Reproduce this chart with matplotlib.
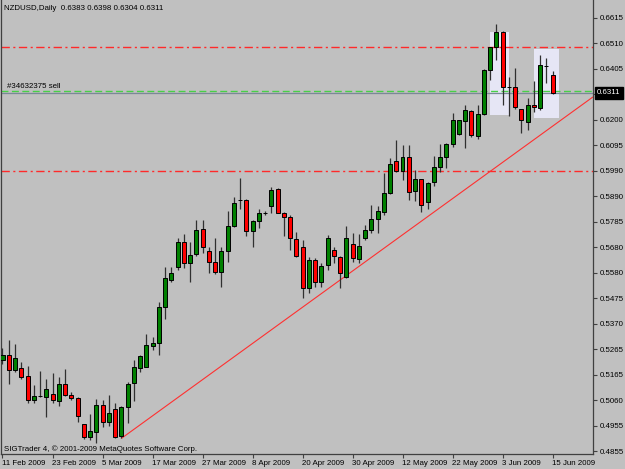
import matplotlib
matplotlib.use("Agg")
import matplotlib.pyplot as plt
import matplotlib.transforms as mtransforms
from matplotlib.patches import Rectangle
import numpy as np
import pandas as pd

# NZDUSD daily candles, 11 Feb 2009 .. 15 Jun 2009
opens = [0.5225, 0.5245, 0.5184, 0.5192, 0.5160, 0.5062, 0.5078, 0.5074, 0.5087, 0.5059,
         0.5127, 0.5082, 0.5072, 0.4963, 0.4913, 0.4934, 0.5042, 0.4974, 0.5026, 0.4915,
         0.5032, 0.5130, 0.5193, 0.5198, 0.5282, 0.5293, 0.5441, 0.5550, 0.5604, 0.5703,
         0.5618, 0.5654, 0.5756, 0.5668, 0.5623, 0.5584, 0.5668, 0.5769, 0.5875, 0.5875,
         0.5750, 0.5791, 0.5822, 0.5851, 0.5920, 0.5824, 0.5805, 0.5718, 0.5683, 0.5516,
         0.5631, 0.5543, 0.5611, 0.5672, 0.5645, 0.5563, 0.5695, 0.5634, 0.5722, 0.5753,
         0.5797, 0.5828, 0.5902, 0.6035, 0.5994, 0.6051, 0.5912, 0.5959, 0.5867, 0.5947,
         0.6008, 0.6050, 0.6101, 0.6145, 0.6198, 0.6237, 0.6135, 0.6224, 0.6404, 0.6496,
         0.6559, 0.6336, 0.6336, 0.6244, 0.6193, 0.6261, 0.6250, 0.6421, 0.6383]
highs = [0.5274, 0.5306, 0.5290, 0.5217, 0.5200, 0.5123, 0.5180, 0.5148, 0.5173, 0.5157,
         0.5188, 0.5096, 0.5075, 0.4966, 0.5005, 0.5066, 0.5062, 0.5082, 0.5051, 0.5038,
         0.5134, 0.5225, 0.5244, 0.5330, 0.5319, 0.5462, 0.5604, 0.5604, 0.5719, 0.5737,
         0.5706, 0.5794, 0.5794, 0.5683, 0.5722, 0.5685, 0.5830, 0.5889, 0.5963, 0.5878,
         0.5794, 0.5837, 0.5830, 0.5927, 0.5922, 0.5826, 0.5814, 0.5746, 0.5713, 0.5645,
         0.5638, 0.5618, 0.5733, 0.5685, 0.5648, 0.5769, 0.5740, 0.5736, 0.5774, 0.5855,
         0.5851, 0.5984, 0.6045, 0.6119, 0.6099, 0.6099, 0.5997, 0.5961, 0.5950, 0.6054,
         0.6101, 0.6106, 0.6230, 0.6202, 0.6261, 0.6243, 0.6261, 0.6406, 0.6498, 0.6591,
         0.6562, 0.6376, 0.6411, 0.6246, 0.6289, 0.6359, 0.6465, 0.6454, 0.6398]
lows = [0.5209, 0.5127, 0.5176, 0.5148, 0.5050, 0.5051, 0.5075, 0.4994, 0.5051, 0.5038,
        0.5079, 0.5062, 0.4974, 0.4902, 0.4900, 0.4887, 0.4954, 0.4956, 0.4906, 0.4906,
        0.4967, 0.5059, 0.5175, 0.5196, 0.5265, 0.5245, 0.5390, 0.5543, 0.5591, 0.5598,
        0.5543, 0.5648, 0.5661, 0.5577, 0.5574, 0.5520, 0.5624, 0.5764, 0.5837, 0.5729,
        0.5683, 0.5760, 0.5815, 0.5821, 0.5822, 0.5729, 0.5672, 0.5642, 0.5476, 0.5498,
        0.5523, 0.5520, 0.5591, 0.5618, 0.5516, 0.5560, 0.5624, 0.5618, 0.5713, 0.5740,
        0.5742, 0.5814, 0.5900, 0.5990, 0.5956, 0.5875, 0.5872, 0.5828, 0.5839, 0.5934,
        0.5987, 0.6006, 0.6092, 0.6139, 0.6085, 0.6132, 0.6123, 0.6222, 0.6363, 0.6444,
        0.6261, 0.6217, 0.6244, 0.6149, 0.6160, 0.6234, 0.6241, 0.6350, 0.6304]
closes = [0.5245, 0.5184, 0.5233, 0.5156, 0.5062, 0.5080, 0.5079, 0.5107, 0.5062, 0.5127,
          0.5082, 0.5072, 0.4997, 0.4914, 0.4935, 0.5042, 0.4973, 0.5008, 0.4913, 0.5032,
          0.5127, 0.5198, 0.5241, 0.5286, 0.5293, 0.5441, 0.5557, 0.5580, 0.5703, 0.5618,
          0.5652, 0.5753, 0.5685, 0.5624, 0.5584, 0.5668, 0.5769, 0.5862, 0.5875, 0.5750,
          0.5790, 0.5824, 0.5824, 0.5916, 0.5824, 0.5805, 0.5719, 0.5648, 0.5516, 0.5631,
          0.5543, 0.5607, 0.5719, 0.5648, 0.5577, 0.5722, 0.5641, 0.5689, 0.5753, 0.5797,
          0.5830, 0.5902, 0.6020, 0.5993, 0.6051, 0.5909, 0.5959, 0.5855, 0.5944, 0.6008,
          0.6050, 0.6103, 0.6202, 0.6200, 0.6241, 0.6139, 0.6224, 0.6404, 0.6496, 0.6559,
          0.6336, 0.6336, 0.6254, 0.6200, 0.6261, 0.6252, 0.6424, 0.6421, 0.6311]

price_labels = ['0.6615', '0.6510', '0.6405', '', '0.6200', '0.6095', '0.5990', '0.5890',
                '0.5785', '0.5680', '0.5580', '0.5475', '0.5370', '0.5265', '0.5165',
                '0.5060', '0.4955', '0.4855']

red_levels = [0.6495, 0.5993]          # dash-dot horizontal lines
order_level = 0.6319                   # "#34632375 sell"
trend_pts = [(19, 0.4906), (88, 0.6175)]
boxes = [(78.0, 81.0, 0.6221, 0.6559), (85.0, 89.0, 0.6210, 0.6489)]

bg = '#c0c0c0'
plt.rcParams['font.family'] = ['Liberation Sans', 'DejaVu Sans']
fs = 5.7

n = len(closes)
dates = pd.bdate_range('2009-02-11', periods=n)
x = np.arange(n)

fig = plt.figure(figsize=(6.25, 4.69), dpi=100, facecolor=bg)
ax = fig.add_axes([1.5 / 625, 15 / 469, 591.5 / 625, 454 / 469], facecolor=bg)
ax.set_xlim(-0.16, 94.48)
ax.set_ylim(0.4843, 0.6688)

for s in ['left', 'bottom', 'right']:
    ax.spines[s].set_color('#404040')
    ax.spines[s].set_linewidth(0.9)
ax.spines['top'].set_visible(False)

# rectangles
for x0, x1, y0, y1 in boxes:
    ax.add_patch(Rectangle((x0, y0), x1 - x0, y1 - y0, facecolor='#e6e6f5',
                           edgecolor='none', zorder=1))

# horizontal lines
for lvl in red_levels:
    ax.axhline(lvl, color='#ff2a2a', lw=1.0, dashes=(6, 2.5, 1.5, 2.5), zorder=2)
ax.axhline(order_level, color='#48d048', lw=1.0, dashes=(5, 2.5), zorder=2)
ax.axhline(closes[-1], color='#7a8898', lw=0.9, zorder=2)
ax.text(0.0088, order_level + 0.0002, '#34632375 sell',
        transform=mtransforms.blended_transform_factory(ax.transAxes, ax.transData),
        fontsize=fs, va='bottom', ha='left', color='black')

# trend line (ray to the right)
(tx0, ty0), (tx1, ty1) = trend_pts
slope = (ty1 - ty0) / (tx1 - tx0)
xe = ax.get_xlim()[1]
ax.plot([tx0, xe], [ty0, ty0 + slope * (xe - tx0)], color='#ff3030', lw=0.8, zorder=2,
        solid_capstyle='butt')

# candles
o = np.array(opens); h = np.array(highs); l = np.array(lows); c = np.array(closes)
ax.vlines(x, l, h, color='#303030', lw=0.9, zorder=3)
up = c >= o
ax.bar(x[up], (c - o)[up], bottom=o[up], width=0.64, color='#008000',
       edgecolor='black', linewidth=0.7, zorder=4)
ax.bar(x[~up], (o - c)[~up], bottom=c[~up], width=0.64, color='#ff0000',
       edgecolor='black', linewidth=0.7, zorder=4)

# price axis
ax.yaxis.tick_right()
ax.set_yticks(np.linspace(0.6615, 0.4855, len(price_labels)))
ax.set_yticklabels(price_labels)
ax.tick_params(axis='y', length=3, width=0.8, pad=1.5, labelsize=fs, color='#404040')

# time axis
tick_idx = list(range(0, n, 8))
ax.set_xticks(tick_idx)
ax.set_xticklabels([f"{dates[i].day} {dates[i].strftime('%b %Y')}" for i in tick_idx],
                   ha='left')
ax.tick_params(axis='x', length=3, width=0.8, pad=1.5, labelsize=fs, color='#404040')

# current price box
ax.annotate(f"{closes[-1]:.4f}", xy=(1, closes[-1]),
            xycoords=mtransforms.blended_transform_factory(ax.transAxes, ax.transData),
            xytext=(3, 0), textcoords='offset points', ha='left', va='center',
            fontsize=fs, color='white',
            bbox=dict(boxstyle='square,pad=0.3', facecolor='black', edgecolor='black'))

fig.text(4 / 625, 1 - 8 / 469,
         f"NZDUSD,Daily  {opens[-1]:.4f} {highs[-1]:.4f} {lows[-1]:.4f} {closes[-1]:.4f}",
         fontsize=fs, va='center', ha='left', color='black')
ax.text(0.0042, 0.011, 'SIGTrader 4, \u00a9 2001-2009 MetaQuotes Software Corp.',
        transform=ax.transAxes, fontsize=fs, va='center', ha='left', color='black')

fig.savefig('out.png', dpi=100, facecolor=bg)
